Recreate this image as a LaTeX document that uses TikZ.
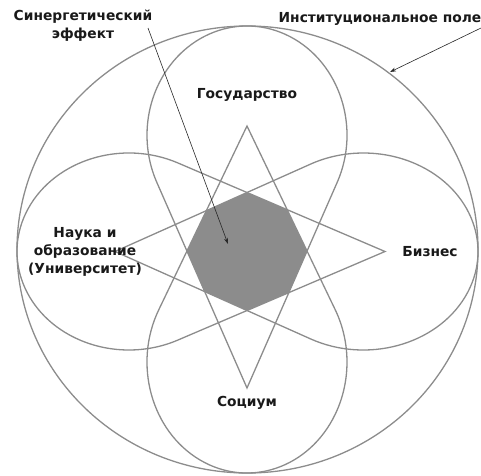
\documentclass[tikz,border=0pt]{standalone}
\usepackage{fontspec}
\setmainfont{DejaVu Sans}
\usetikzlibrary{calc,arrows.meta}
\definecolor{linegray}{RGB}{140,140,140}
\definecolor{octgray}{RGB}{140,140,140}
\definecolor{txt}{RGB}{25,25,25}
\begin{document}
\begin{tikzpicture}[x=1pt,y=1pt,
  loopline/.style={draw=linegray,line width=1.3pt},
  lbl/.style={font=\bfseries\fontsize{13.8}{18}\selectfont,text=txt,align=center,inner sep=0pt},
  pointer/.style={draw=black!85,line width=0.6pt,-{Stealth[length=6pt,width=4pt]}}]
\useasboundingbox (0,0) rectangle (481,475);
% centres of the rounded ends
\coordinate (N) at (247,339.8);
\coordinate (S) at (247,113);
\coordinate (W) at (128.9,223.5);
\coordinate (E) at (363.4,223.5);
% tips of the petals
\coordinate (T) at (247,349);
\coordinate (B) at (247,87);
\coordinate (L) at (115,223.5);
\coordinate (R) at (385,223.5);
\coordinate (C) at (247.5,225.5);
% synergy octagon
\begin{scope}
\clip (B) -- ($(N)+(-25.6:100 and 109.2)$) arc[start angle=-25.6,end angle=205.6,x radius=100,y radius=109.2] -- cycle;
\clip (T) -- ($(S)+(151.95:100 and 111)$) arc[start angle=151.95,end angle=388.05,x radius=100,y radius=111] -- cycle;
\clip (L) -- ($(E)+(242.53:114.6 and 98.5)$) arc[start angle=242.53,end angle=477.47,x radius=114.6,y radius=98.5] -- cycle;
\clip (R) -- ($(W)+(64.09:111.9 and 98.5)$) arc[start angle=64.09,end angle=295.91,x radius=111.9,y radius=98.5] -- cycle;
\fill[octgray] (0,0) rectangle (481,475);
\end{scope}
% institutional field
\draw[loopline] (C) ellipse [x radius=230.5, y radius=223.5];
% petals
\draw[loopline] (B) -- ($(N)+(-25.6:100 and 109.2)$) arc[start angle=-25.6,end angle=205.6,x radius=100,y radius=109.2] -- cycle;
\draw[loopline] (T) -- ($(S)+(151.95:100 and 111)$) arc[start angle=151.95,end angle=388.05,x radius=100,y radius=111] -- cycle;
\draw[loopline] (L) -- ($(E)+(242.53:114.6 and 98.5)$) arc[start angle=242.53,end angle=477.47,x radius=114.6,y radius=98.5] -- cycle;
\draw[loopline] (R) -- ($(W)+(64.09:111.9 and 98.5)$) arc[start angle=64.09,end angle=295.91,x radius=111.9,y radius=98.5] -- cycle;
% labels
\node[lbl] (gos) at (247,380) {Государство};
\node[lbl] (soc) at (247,72) {Социум};
\node[lbl] (biz) at (430,223) {Бизнес};
\node[lbl] (nauka) at (85,223) {Наука и\\образование\\(Университет)};
\node[lbl] (syn) at (83,449) {Синергетический\\эффект};
\node[lbl] (inst) at (380,456) {Институциональное поле};
% pointers
\coordinate (synfrom) at (148,447);
\coordinate (synto) at (228,231);
\coordinate (instfrom) at (481,447);
\coordinate (instto) at (390,403);
\draw[pointer] (synfrom) -- (synto);
\draw[pointer] (instfrom) -- (instto);
\end{tikzpicture}
\end{document}
